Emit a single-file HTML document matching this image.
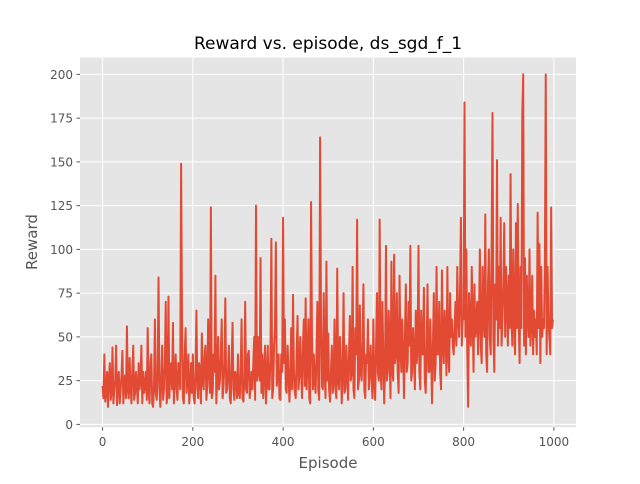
<!DOCTYPE html>
<html><head><meta charset="utf-8"><style>
body{margin:0;background:#fff;font-family:"DejaVu Sans","Liberation Sans",sans-serif}
svg text{font-family:"DejaVu Sans","Liberation Sans",sans-serif}
</style></head><body>
<svg id="chart" width="640" height="480">
<rect x="0" y="0" width="640" height="480" fill="#fff"/>
<rect x="80" y="57.6" width="496" height="369.6" fill="#e5e5e5"/>
<g id="grid"></g><g id="ticks"></g><g id="series"></g>
<text x="328" y="49" text-anchor="middle" font-size="17" fill="#000">Reward vs. episode, ds_sgd_f_1</text>
<text x="328" y="468" text-anchor="middle" font-size="15" fill="#555">Episode</text>
<text x="37" y="242" text-anchor="middle" font-size="15" fill="#555" transform="rotate(-90 37 242)">Reward</text>
</svg>
<script>
const xTicks=[0,200,400,600,800,1000];
const yTicks=[0,25,50,75,100,125,150,175,200];
const episodeStep=2;
const rewards=[
22,15,40,13,18,30,10,25,35,14,18,44,12,20,25,45,11,22,30,12,20,28,42,12,24,28,15,56,20,15,38,22,12,30,45,14,18,30,22,12,35,20,25,45,12,30,18,22,30,14,
55,20,12,35,40,12,10,22,60,18,14,30,84,20,10,25,45,14,20,35,70,12,18,73,15,30,35,20,58,12,25,40,20,14,35,30,20,149,62,15,12,40,55,18,25,40,12,20,35,18,
40,15,12,30,65,20,15,35,30,12,52,25,20,40,45,14,22,60,30,18,124,15,18,40,30,85,12,25,50,20,25,40,60,15,22,35,72,18,20,30,45,15,12,35,58,20,14,30,25,15,
40,18,15,30,60,15,13,25,70,20,18,40,42,15,22,30,20,35,50,14,125,25,50,30,25,95,18,40,15,30,45,12,25,45,20,20,40,106,15,20,45,55,104,22,30,40,15,14,40,30,
118,35,60,20,18,45,30,13,25,55,20,74,30,18,15,40,62,20,28,50,30,15,45,60,22,72,20,35,60,15,12,127,50,20,40,25,18,40,70,20,14,164,60,22,20,75,30,15,93,25,
52,20,13,30,45,18,25,60,20,15,89,25,20,50,35,12,30,75,18,20,45,30,14,40,62,25,30,90,20,15,55,40,117,20,25,68,30,25,45,80,20,15,40,35,60,20,30,45,25,15,
60,25,14,45,75,30,25,117,30,20,70,40,12,35,102,25,30,65,40,15,93,30,25,97,35,40,75,30,18,85,45,30,60,40,15,50,80,30,35,70,45,102,25,30,55,40,20,65,35,45,
102,30,20,65,40,40,78,25,18,45,80,30,30,60,40,12,45,75,25,35,90,40,40,70,30,20,88,45,35,65,50,28,90,40,30,75,50,60,45,40,55,70,45,90,60,50,75,118,45,60,
60,184,50,100,45,10,75,55,45,90,60,30,80,50,55,70,40,60,100,45,35,90,60,50,120,40,30,80,100,50,40,100,178,50,30,80,60,151,45,90,55,118,45,60,80,115,50,90,70,45,
85,55,143,60,45,100,60,40,115,55,126,60,35,90,55,177,200,45,95,40,85,60,50,100,45,60,85,40,65,50,60,40,121,55,103,35,90,50,60,55,90,200,40,90,60,50,40,124,55,60];
const X0=-50,X1=1049,Y0=-1.6,Y1=209.6;
const sx=v=>80+(v-X0)/(X1-X0)*496;
const sy=v=>427.2-(v-Y0)/(Y1-Y0)*369.6;
const NS="http://www.w3.org/2000/svg";
function mk(t,a,p){const e=document.createElementNS(NS,t);for(const k in a)e.setAttribute(k,a[k]);p.appendChild(e);return e;}
const grid=document.getElementById('grid'),ticks=document.getElementById('ticks'),series=document.getElementById('series');
xTicks.forEach(t=>{const x=sx(t);
const g=mk('line',{x1:x,x2:x,y1:57.6,y2:427.2,stroke:'#fff','stroke-width':1},grid);


const tk=mk('line',{x1:x,x2:x,y1:427.2,y2:430.7,stroke:'#555'},ticks);


const l=mk('text',{x:x,y:446,'text-anchor':'middle','font-size':12,fill:'#555'},ticks);l.textContent=t;

});
yTicks.forEach(t=>{const y=sy(t);
const g=mk('line',{x1:80,x2:576,y1:y,y2:y,stroke:'#fff','stroke-width':1},grid);


const tk=mk('line',{x1:76.5,x2:80,y1:y,y2:y,stroke:'#555'},ticks);


const l=mk('text',{x:73,y:y+4.5,'text-anchor':'end','font-size':12,fill:'#555'},ticks);l.textContent=t;

});
const pts=rewards.map((v,i)=>sx(i*episodeStep).toFixed(2)+','+sy(v).toFixed(2)).join(' ');
const pl=mk('polyline',{points:pts,fill:'none',stroke:'#e24a33','stroke-width':2,'stroke-linejoin':'round'},series);


</script>
</body></html>
